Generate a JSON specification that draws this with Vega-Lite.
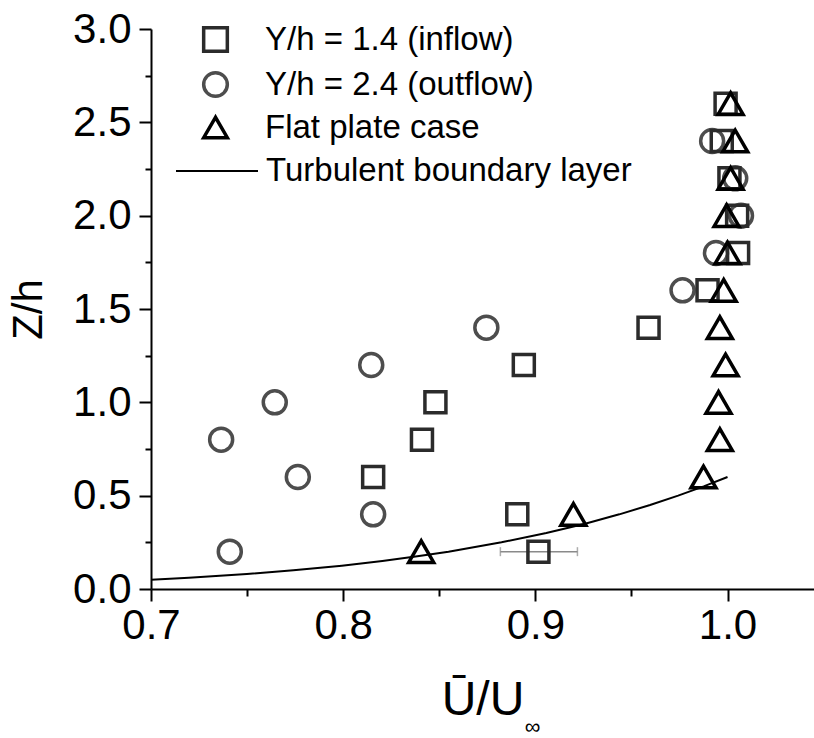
{
  "$schema": "https://vega.github.io/schema/vega-lite/v6.json",
  "width": 663,
  "height": 560,
  "autosize": {"type": "none"},
  "padding": {"left": 151, "top": 29, "right": 0, "bottom": 149},
  "background": "white",
  "config": {
    "view": {"stroke": null},
    "font": "Liberation Sans",
    "title": {"font": "Liberation Sans"},
    "axis": {"labelFont": "Liberation Sans", "titleFont": "Liberation Sans"},
    "legend": {"labelFont": "Liberation Sans", "labelLimit": 0}
  },
  "title": {
    "text": "∞",
    "orient": "bottom",
    "anchor": "middle",
    "dx": 50,
    "offset": -7,
    "fontSize": 22,
    "fontWeight": "normal",
    "color": "black"
  },
  "datasets": {
    "pts": [
      {"s": "Y/h = 2.4 (outflow)", "u": 0.741, "z": 0.2},
      {"s": "Y/h = 2.4 (outflow)", "u": 0.8156, "z": 0.4},
      {"s": "Y/h = 2.4 (outflow)", "u": 0.7764, "z": 0.6},
      {"s": "Y/h = 2.4 (outflow)", "u": 0.7365, "z": 0.8},
      {"s": "Y/h = 2.4 (outflow)", "u": 0.7644, "z": 1.0},
      {"s": "Y/h = 2.4 (outflow)", "u": 0.8146, "z": 1.2},
      {"s": "Y/h = 2.4 (outflow)", "u": 0.8745, "z": 1.4},
      {"s": "Y/h = 2.4 (outflow)", "u": 0.9766, "z": 1.6},
      {"s": "Y/h = 2.4 (outflow)", "u": 0.994, "z": 1.8},
      {"s": "Y/h = 2.4 (outflow)", "u": 1.007, "z": 2.0},
      {"s": "Y/h = 2.4 (outflow)", "u": 1.004, "z": 2.2},
      {"s": "Y/h = 2.4 (outflow)", "u": 0.992, "z": 2.4},
      {"s": "Y/h = 1.4 (inflow)", "u": 0.9016, "z": 0.2},
      {"s": "Y/h = 1.4 (inflow)", "u": 0.8906, "z": 0.4},
      {"s": "Y/h = 1.4 (inflow)", "u": 0.8156, "z": 0.6},
      {"s": "Y/h = 1.4 (inflow)", "u": 0.841, "z": 0.8},
      {"s": "Y/h = 1.4 (inflow)", "u": 0.848, "z": 1.0},
      {"s": "Y/h = 1.4 (inflow)", "u": 0.894, "z": 1.2},
      {"s": "Y/h = 1.4 (inflow)", "u": 0.9589, "z": 1.4},
      {"s": "Y/h = 1.4 (inflow)", "u": 0.9896, "z": 1.6},
      {"s": "Y/h = 1.4 (inflow)", "u": 1.0055, "z": 1.8},
      {"s": "Y/h = 1.4 (inflow)", "u": 1.005, "z": 2.0},
      {"s": "Y/h = 1.4 (inflow)", "u": 1.001, "z": 2.2},
      {"s": "Y/h = 1.4 (inflow)", "u": 0.997, "z": 2.4},
      {"s": "Y/h = 1.4 (inflow)", "u": 0.999, "z": 2.6},
      {"s": "Flat plate case", "u": 0.8406, "z": 0.2},
      {"s": "Flat plate case", "u": 0.9198, "z": 0.4},
      {"s": "Flat plate case", "u": 0.9875, "z": 0.6},
      {"s": "Flat plate case", "u": 0.996, "z": 0.8},
      {"s": "Flat plate case", "u": 0.9953, "z": 1.0},
      {"s": "Flat plate case", "u": 0.999, "z": 1.2},
      {"s": "Flat plate case", "u": 0.996, "z": 1.4},
      {"s": "Flat plate case", "u": 0.998, "z": 1.6},
      {"s": "Flat plate case", "u": 1.0, "z": 1.8},
      {"s": "Flat plate case", "u": 0.9995, "z": 2.0},
      {"s": "Flat plate case", "u": 1.0016, "z": 2.2},
      {"s": "Flat plate case", "u": 1.004, "z": 2.4},
      {"s": "Flat plate case", "u": 1.0016, "z": 2.6}
    ]
  },
  "encoding": {
    "x": {
      "field": "u",
      "type": "quantitative",
      "scale": {"domain": [0.7, 1.045], "nice": false, "zero": false},
      "axis": {
        "title": "Ū/U",
        "values": [0.7, 0.75, 0.8, 0.85, 0.9, 0.95, 1.0],
        "labelExpr": "round(datum.value*100)%10===0 ? format(datum.value,'.1f') : ''",
        "tickSize": {"condition": {"test": "round(datum.value*100)%10===0", "value": 12}, "value": 7},
        "tickWidth": 2,
        "tickColor": "black",
        "domainColor": "black",
        "domainWidth": 2,
        "labelFontSize": 42,
        "labelColor": "black",
        "labelPadding": 4,
        "labelFlush": false,
        "labelOverlap": false,
        "titleFontSize": 48,
        "titleFontWeight": "normal",
        "titleColor": "black",
        "titlePadding": 30,
        "grid": false
      }
    },
    "y": {
      "field": "z",
      "type": "quantitative",
      "scale": {"domain": [0, 3], "nice": false, "zero": false},
      "axis": {
        "title": "Z/h",
        "values": [0, 0.25, 0.5, 0.75, 1, 1.25, 1.5, 1.75, 2, 2.25, 2.5, 2.75, 3],
        "labelExpr": "round(datum.value*100)%50===0 ? format(datum.value,'.1f') : ''",
        "tickSize": {"condition": {"test": "round(datum.value*100)%50===0", "value": 12}, "value": 6},
        "tickWidth": 2,
        "tickColor": "black",
        "domainColor": "black",
        "domainWidth": 2,
        "labelFontSize": 42,
        "labelColor": "black",
        "labelPadding": 8,
        "labelFlush": false,
        "labelOverlap": false,
        "titleFontSize": 42,
        "titleFontWeight": "normal",
        "titleColor": "black",
        "titlePadding": 22,
        "grid": false
      }
    }
  },
  "layer": [
    {
      "data": {"values": [{"u": 0.9016, "z": 0.2, "e1": -0.0198, "e2": 0.0203}]},
      "mark": {"type": "errorbar", "ticks": {"size": 9}, "color": "#8a8a8a", "thickness": 1.5},
      "encoding": {
        "xError": {"field": "e1"},
        "xError2": {"field": "e2"}
      }
    },
    {
      "data": {"values": [
        {"c": "Turbulent boundary layer", "u": 0.7, "z": 0.0494},
        {"c": "Turbulent boundary layer", "u": 0.7197, "z": 0.06},
        {"c": "Turbulent boundary layer", "u": 0.7499, "z": 0.08},
        {"c": "Turbulent boundary layer", "u": 0.7741, "z": 0.1},
        {"c": "Turbulent boundary layer", "u": 0.7993, "z": 0.125},
        {"c": "Turbulent boundary layer", "u": 0.8204, "z": 0.15},
        {"c": "Turbulent boundary layer", "u": 0.8386, "z": 0.175},
        {"c": "Turbulent boundary layer", "u": 0.8548, "z": 0.2},
        {"c": "Turbulent boundary layer", "u": 0.8824, "z": 0.25},
        {"c": "Turbulent boundary layer", "u": 0.9057, "z": 0.3},
        {"c": "Turbulent boundary layer", "u": 0.9259, "z": 0.35},
        {"c": "Turbulent boundary layer", "u": 0.9437, "z": 0.4},
        {"c": "Turbulent boundary layer", "u": 0.9597, "z": 0.45},
        {"c": "Turbulent boundary layer", "u": 0.9743, "z": 0.5},
        {"c": "Turbulent boundary layer", "u": 0.9876, "z": 0.55},
        {"c": "Turbulent boundary layer", "u": 1.0, "z": 0.6}
      ]},
      "mark": {"type": "line", "strokeWidth": 2, "clip": true},
      "encoding": {
        "color": {
          "field": "c",
          "type": "nominal",
          "scale": {"range": ["#000000"]},
          "legend": {
            "title": null,
            "orient": "none",
            "legendX": 24,
            "legendY": 100,
            "padding": 0,
            "labelFontSize": 33,
            "labelColor": "black",
            "labelOffset": 7,
            "labelLimit": 0,
            "symbolSize": 6724,
            "symbolStrokeWidth": 2
          }
        }
      }
    },
    {
      "data": {"name": "pts"},
      "encoding": {
        "shape": {
          "field": "s",
          "type": "nominal",
          "scale": {
            "domain": ["Y/h = 1.4 (inflow)", "Y/h = 2.4 (outflow)", "Flat plate case"],
            "range": ["square", "circle", "triangle-up"]
          },
          "legend": {
            "title": null,
            "orient": "none",
            "legendX": 48,
            "legendY": -6,
            "padding": 0,
            "labelFontSize": 33,
            "labelColor": "black",
            "labelOffset": 33,
            "labelLimit": 0,
            "rowPadding": 6,
            "symbolSize": 560,
            "symbolStrokeWidth": 3.5
          }
        },
        "stroke": {
          "field": "s",
          "type": "nominal",
          "scale": {
            "domain": ["Y/h = 1.4 (inflow)", "Y/h = 2.4 (outflow)", "Flat plate case"],
            "range": ["#2b2b2b", "#4d4d4d", "#000000"]
          },
          "legend": {
            "title": null,
            "orient": "none",
            "legendX": 48,
            "legendY": -6,
            "padding": 0,
            "labelFontSize": 33,
            "labelColor": "black",
            "labelOffset": 33,
            "labelLimit": 0,
            "rowPadding": 6,
            "symbolSize": 560,
            "symbolStrokeWidth": 3.5
          }
        }
      },
      "layer": [
        {
          "transform": [{"filter": "datum.s === 'Y/h = 2.4 (outflow)'"}],
          "mark": {"type": "point", "filled": false, "strokeWidth": 3.5, "opacity": 1, "size": 529}
        },
        {
          "transform": [{"filter": "datum.s === 'Y/h = 1.4 (inflow)'"}],
          "mark": {"type": "point", "filled": false, "strokeWidth": 3.5, "opacity": 1, "size": 441}
        },
        {
          "transform": [{"filter": "datum.s === 'Flat plate case'"}],
          "mark": {"type": "point", "filled": false, "strokeWidth": 3.5, "opacity": 1, "size": 625}
        }
      ]
    }
  ]
}
